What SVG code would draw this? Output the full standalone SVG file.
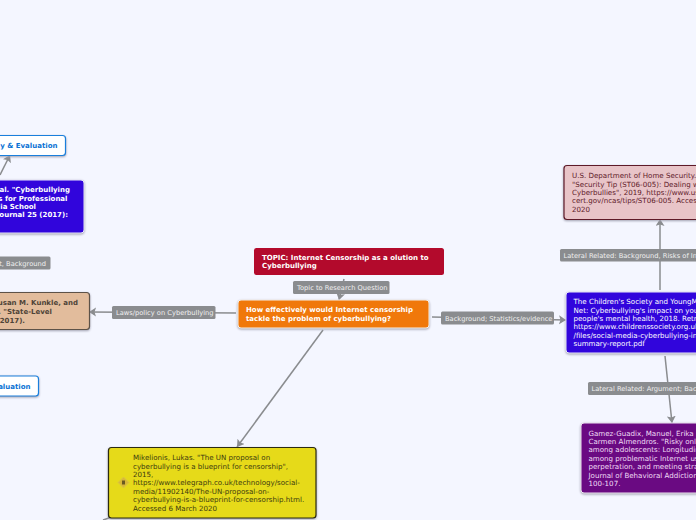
<svg xmlns="http://www.w3.org/2000/svg" width="696" height="520" viewBox="0 0 696 520">
<style>
text{font-family:"DejaVu Sans",Verdana,sans-serif;font-size:7.1px}
.b{font-weight:bold;font-size:7px}
.w{fill:#fff}
.e{text-anchor:end}
.lb rect{fill:#8a8c8f}
.lb text{fill:#f0f0f0;font-size:6.7px}
.c line{stroke:#8a8c8f;stroke-width:1.500;fill:none}
.s{filter:drop-shadow(0 1px 1px #a0a0b0)}
</style>
<defs>
<marker id="a" markerUnits="userSpaceOnUse" markerWidth="10" markerHeight="10" refX="7" refY="4.500" orient="auto"><path d="M0 0L7 4.500L0 9L1.500 4.500Z" fill="#8a8c8f"/></marker>
</defs>
<rect width="696" height="520" fill="#f4f6ff"/>
<g id="connectors" class="c">
<line x1="344" y1="279" x2="339" y2="300" marker-end="url(#a)"/>
<line x1="236" y1="313" x2="89" y2="312" marker-end="url(#a)"/>
<line x1="432" y1="317" x2="566" y2="320" marker-end="url(#a)"/>
<line x1="323" y1="330" x2="237" y2="447" marker-end="url(#a)"/>
<line x1="660" y1="290" x2="660" y2="219" marker-end="url(#a)"/>
<line x1="665" y1="356" x2="672" y2="423" marker-end="url(#a)"/>
<line x1="0" y1="175" x2="10" y2="155" marker-end="url(#a)"/>
<line x1="112" y1="517" x2="103" y2="520"/>
</g>
<g id="node-white-top">
<rect class="s" x="-60" y="135.500" width="125.500" height="20" rx="3" fill="#fff" stroke="#1a7fdc" stroke-width="1.200"/>
<text class="b e" x="57.500" y="148" fill="#0a72d4">y &amp; Evaluation</text>
</g>
<g id="node-blue-left">
<rect class="s" x="-100" y="180" width="184" height="53" rx="3" fill="#3105dc" stroke="#e8e8f8" stroke-width="1"/>
<text class="b w e" x="70" y="192">al. "Cyberbullying</text>
<text class="b w e" x="67.500" y="200.500">s for Professional</text>
<text class="b w e" x="36" y="209">ia School</text>
<text class="b w e" x="68" y="217">ournal 25 (2017):</text>
</g>
<g id="label-left-background" class="lb">
<rect x="-40" y="256.500" width="90.500" height="13" rx="1.500"/>
<text class="e" x="46" y="265.500">t, Background</text>
</g>
<g id="node-tan">
<rect class="s" x="-100" y="292.500" width="189.500" height="37" rx="3" fill="#e2bc9c" stroke="#5d5248" stroke-width="1.200"/>
<text class="b e" x="78" y="305" fill="#4f4438">usan M. Kunkle, and</text>
<text class="b e" x="52" y="314" fill="#4f4438">. "State-Level</text>
<text class="b e" x="25" y="322.500" fill="#4f4438">2017).</text>
</g>
<g id="node-white-bottom">
<rect class="s" x="-60" y="376" width="98.500" height="20" rx="3" fill="#fff" stroke="#1a7fdc" stroke-width="1.200"/>
<text class="b e" x="30.500" y="388.500" fill="#0a72d4">aluation</text>
</g>
<g id="label-laws" class="lb">
<rect x="112" y="306" width="103.500" height="13" rx="1.500"/>
<text x="116" y="315">Laws/policy on Cyberbullying</text>
</g>
<g id="node-topic">
<rect x="254" y="248" width="190" height="27" rx="2.500" fill="#b30a2c"/>
<text class="b w" x="262" y="260">TOPIC: Internet Censorship as a olution to</text>
<text class="b w" x="262" y="268">Cyberbullying</text>
</g>
<g id="label-topic" class="lb">
<rect x="293" y="281" width="96.500" height="13" rx="1.500"/>
<text x="297" y="290">Topic to Research Question</text>
</g>
<g id="node-question">
<rect class="s" x="238" y="300" width="191" height="28" rx="3" fill="#f0780a" stroke="#f4f0ea" stroke-width="1"/>
<text class="b w" x="246" y="312">How effectively would Internet censorship</text>
<text class="b w" x="246" y="321">tackle the problem of cyberbullying?</text>
</g>
<g id="label-background" class="lb">
<rect x="441" y="311.500" width="113" height="13" rx="1.500"/>
<text x="445" y="320.500">Background; Statistics/evidence</text>
</g>
<g id="node-yellow">
<rect class="s" x="108.500" y="447.500" width="207.500" height="70.500" rx="3" fill="#e6da19" stroke="#2b2a10" stroke-width="1.200"/>
<path d="M123.500 477L129 482.500L123.500 488L118 482.500Z" fill="#d8b838" stroke="#dcc840"/>
<rect x="122" y="480.500" width="3" height="4" fill="#6a5a20"/>
<text x="133" y="460" fill="#3d3a10">Mikelionis, Lukas. "The UN proposal on</text>
<text x="133" y="468.500" fill="#3d3a10">cyberbullying is a blueprint for censorship",</text>
<text x="133" y="477" fill="#3d3a10">2015,</text>
<text x="133" y="485" fill="#3d3a10">https://www.telegraph.co.uk/technology/social-</text>
<text x="133" y="494" fill="#3d3a10">media/11902140/The-UN-proposal-on-</text>
<text x="133" y="502" fill="#3d3a10">cyberbullying-is-a-blueprint-for-censorship.html.</text>
<text x="133" y="511" fill="#3d3a10">Accessed 6 March 2020</text>
</g>
<g id="node-pink">
<rect class="s" x="564" y="165.500" width="160" height="54" rx="3" fill="#e8c4c8" stroke="#5e1a28" stroke-width="1.200"/>
<text x="572" y="178" fill="#5e1a28">U.S. Department of Home Security.</text>
<text x="572" y="186.500" fill="#5e1a28">"Security Tip (ST06-005): Dealing w</text>
<text x="572" y="195" fill="#5e1a28">Cyberbullies", 2019, https://www.us</text>
<text x="572" y="203" fill="#5e1a28">cert.gov/ncas/tips/ST06-005. Access</text>
<text x="572" y="212" fill="#5e1a28">2020</text>
</g>
<g id="label-lateral-1" class="lb">
<rect x="560" y="249" width="160" height="12.500" rx="1.500"/>
<text x="563.500" y="258">Lateral Related: Background, Risks of Inf</text>
</g>
<g id="node-blue-right">
<rect class="s" x="566" y="292" width="160" height="61" rx="3" fill="#3105dc" stroke="#e8e8f8" stroke-width="1"/>
<text class="w" x="573.500" y="304">The Children's Society and YoungMi</text>
<text class="w" x="573.500" y="312.500">Net: Cyberbullying's impact on you</text>
<text class="w" x="573.500" y="321">people's mental health, 2018. Retri</text>
<text class="w" x="573.500" y="329">https://www.childrenssociety.org.uk</text>
<text class="w" x="573.500" y="338">/files/social-media-cyberbullying-in</text>
<text class="w" x="573.500" y="346">summary-report.pdf</text>
</g>
<g id="label-lateral-2" class="lb">
<rect x="588" y="382" width="140" height="13" rx="1.500"/>
<text x="591.500" y="391">Lateral Related: Argument; Bac</text>
</g>
<g id="node-purple">
<rect class="s" x="581" y="423" width="140" height="70" rx="3" fill="#6a0a82" stroke="#ece4f0" stroke-width="1"/>
<text x="588.500" y="435.500" fill="#f0dcf5">Gamez-Guadix, Manuel, Erika</text>
<text x="588.500" y="444" fill="#f0dcf5">Carmen Almendros. "Risky onl</text>
<text x="588.500" y="452" fill="#f0dcf5">among adolescents: Longitudin</text>
<text x="588.500" y="461" fill="#f0dcf5">among problematic Internet us</text>
<text x="588.500" y="469" fill="#f0dcf5">perpetration, and meeting stra</text>
<text x="588.500" y="478" fill="#f0dcf5">Journal of Behavioral Addiction</text>
<text x="588.500" y="486" fill="#f0dcf5">100-107.</text>
</g>
</svg>
